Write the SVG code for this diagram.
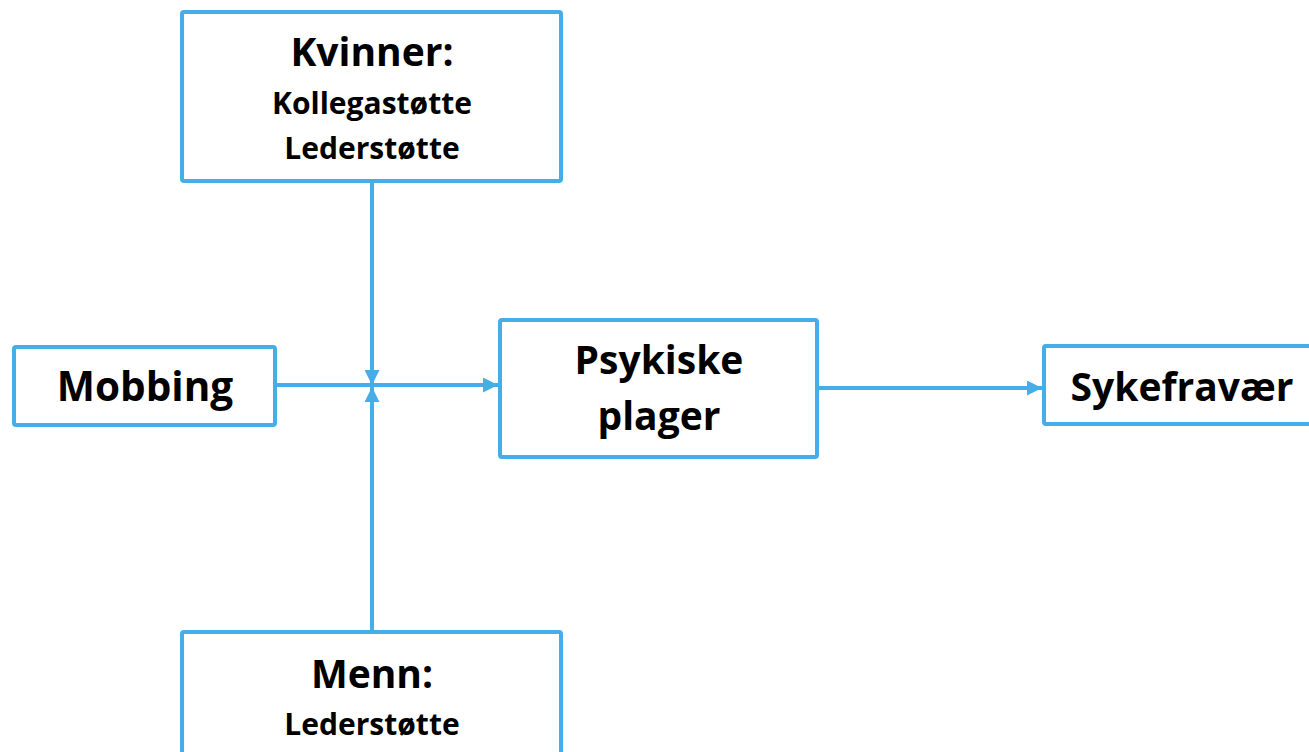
<svg xmlns="http://www.w3.org/2000/svg" width="1309" height="752" viewBox="0 0 1309 752">
<style>
.box{fill:#fff;stroke:#45ADE7;stroke-width:4;}
.ln{stroke:#45ADE7;stroke-width:4;fill:none;}
text{font-family:"Open Sans",Lato,"Liberation Sans",sans-serif;font-weight:bold;fill:#000;text-anchor:middle;}
.big{font-size:39px;}
.small{font-size:30px;}
</style>
<defs>
<marker id="arr" viewBox="0 0 10 10" refX="10" refY="5" markerWidth="15" markerHeight="15" markerUnits="userSpaceOnUse" orient="auto">
<path d="M0,0 L10,5 L0,10 Z" fill="#45ADE7"/>
</marker>
</defs>
<rect width="1309" height="752" fill="#fff"/>
<g id="connectors">
<line class="ln" x1="275" y1="385" x2="498" y2="385" marker-end="url(#arr)"/>
<line class="ln" x1="372" y1="181" x2="372" y2="385" marker-end="url(#arr)"/>
<line class="ln" x1="372" y1="632" x2="372" y2="387" marker-end="url(#arr)"/>
<line class="ln" x1="818" y1="388" x2="1042" y2="388" marker-end="url(#arr)"/>
</g>
<g id="kvinner">
<rect class="box" x="182" y="12" width="379" height="169" rx="2"/>
<text class="big" x="372" y="66">Kvinner:</text>
<text class="small" x="372" y="114">Kollegastøtte</text>
<text class="small" x="372" y="159">Lederstøtte</text>
</g>
<g id="menn">
<rect class="box" x="182" y="632" width="379" height="140" rx="2"/>
<text class="big" x="372" y="688">Menn:</text>
<text class="small" x="372" y="735">Lederstøtte</text>
</g>
<g id="mobbing">
<rect class="box" x="14" y="347" width="261" height="78" rx="2"/>
<text class="big" x="145" y="401" style="font-size:40.5px">Mobbing</text>
</g>
<g id="psykiske">
<rect class="box" x="500" y="320" width="317" height="137" rx="2"/>
<text class="big" x="659" y="374">Psykiske</text>
<text class="big" x="659" y="430">plager</text>
</g>
<g id="sykefravaer">
<rect class="box" x="1044" y="346" width="280" height="78" rx="2"/>
<text class="big" x="1182" y="401">Sykefravær</text>
</g>
</svg>
